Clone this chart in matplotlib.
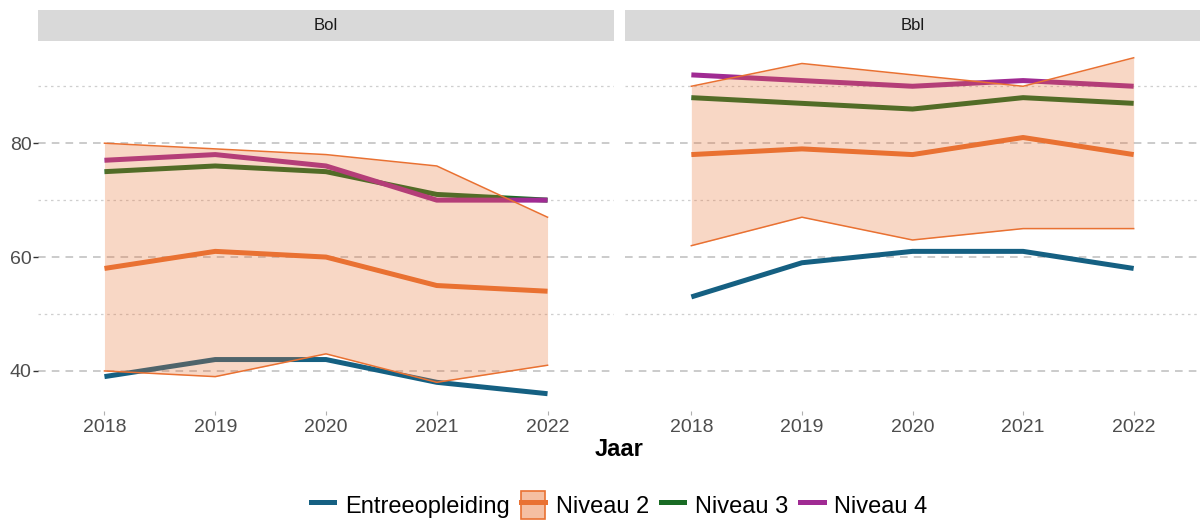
import matplotlib
matplotlib.use("Agg")
import matplotlib.pyplot as plt
from matplotlib.lines import Line2D
from matplotlib.patches import Patch
from matplotlib.ticker import MultipleLocator

plt.rcParams['font.family'] = ['Liberation Sans', 'DejaVu Sans']

years = [2018, 2019, 2020, 2021, 2022]
panels = ["Bol", "Bbl"]

# Bol
bol_entree = [39, 42, 42, 38, 36]
bol_n2 = [58, 61, 60, 55, 54]
bol_n2_low = [40, 39, 43, 38, 41]
bol_n2_high = [80, 79, 78, 76, 67]
bol_n3 = [75, 76, 75, 71, 70]
bol_n4 = [77, 78, 76, 70, 70]

# Bbl
bbl_entree = [53, 59, 61, 61, 58]
bbl_n2 = [78, 79, 78, 81, 78]
bbl_n2_low = [62, 67, 63, 65, 65]
bbl_n2_high = [90, 94, 92, 90, 95]
bbl_n3 = [88, 87, 86, 88, 87]
bbl_n4 = [92, 91, 90, 91, 90]

labels = ["Entreeopleiding", "Niveau 2", "Niveau 3", "Niveau 4"]
colors = ["#156082", "#E97132", "#196B24", "#A02B93"]

data = {
    "Bol": (bol_entree, bol_n2, bol_n2_low, bol_n2_high, bol_n3, bol_n4),
    "Bbl": (bbl_entree, bbl_n2, bbl_n2_low, bbl_n2_high, bbl_n3, bbl_n4),
}

fig = plt.figure(figsize=(12.02, 5.2), dpi=100)
W, H = 1202, 520
boxes = [(38, 614), (625, 1200)]
top, bottom = 41, 410.5
strip_top = 10
xc = (boxes[0][0] + boxes[1][1]) / 2 / W

for i, name in enumerate(panels):
    x0, x1 = boxes[i]
    ax = fig.add_axes([x0 / W, 1 - bottom / H, (x1 - x0) / W, (bottom - top) / H])
    entree, n2, lo, hi, n3, n4 = data[name]

    ax.plot(years, entree, color=colors[0], lw=3.6, zorder=2, solid_capstyle='butt')
    ax.plot(years, n3, color=colors[2], lw=3.6, zorder=2, solid_capstyle='butt')
    ax.plot(years, n4, color=colors[3], lw=3.6, zorder=2, solid_capstyle='butt')
    ax.plot(years, n2, color=colors[1], lw=3.6, zorder=2, solid_capstyle='butt')
    ax.fill_between(years, lo, hi, color=colors[1], alpha=0.28, lw=0, zorder=3)
    ax.plot(years, lo, color=colors[1], lw=1.1, zorder=4)
    ax.plot(years, hi, color=colors[1], lw=1.1, zorder=4)

    ax.set_xlim(2017.4, 2022.6)
    ax.set_ylim(33.05, 97.95)
    ax.yaxis.set_major_locator(MultipleLocator(20))
    ax.yaxis.set_minor_locator(MultipleLocator(10))
    ax.set_xticks(years)
    ax.grid(axis='y', which='major', color='#bdbdbd', lw=1.1, ls=(0, (5, 4)))
    ax.grid(axis='y', which='minor', color='#cfcfcf', lw=0.9, ls=(0, (2, 3)))
    ax.set_axisbelow(True)
    for s in ax.spines.values():
        s.set_visible(False)
    ax.tick_params(axis='x', labelsize=14, labelcolor='#4d4d4d', color='#b0b0b0',
                   length=3, pad=3)
    ax.tick_params(axis='y', which='minor', length=0)
    if i == 0:
        ax.tick_params(axis='y', labelsize=14, labelcolor='#4d4d4d', color='#333333',
                       length=3.5, width=1, pad=1)
    else:
        ax.tick_params(axis='y', labelleft=False, length=0)

    # facet strip
    sax = fig.add_axes([x0 / W, 1 - top / H, (x1 - x0) / W, (top - strip_top) / H])
    sax.set_facecolor('#d9d9d9')
    sax.set_xticks([])
    sax.set_yticks([])
    for s in sax.spines.values():
        s.set_visible(False)
    sax.text(0.5, 0.5, name, ha='center', va='center', fontsize=12, color='#1a1a1a',
             transform=sax.transAxes)

fig.text(xc, 1 - 450 / H, "Jaar", ha='center', va='center', fontsize=17, fontweight='bold')

handles = [
    Line2D([], [], color=colors[0], lw=3.6),
    (Patch(facecolor=colors[1], alpha=0.45, edgecolor='none'),
     Patch(facecolor='none', edgecolor=colors[1], lw=1.2),
     Line2D([], [], color=colors[1], lw=3.6)),
    Line2D([], [], color=colors[2], lw=3.6),
    Line2D([], [], color=colors[3], lw=3.6),
]
fig.legend(handles, labels, loc='center', bbox_to_anchor=(xc, 1 - 505 / H), ncol=4,
           frameon=False, fontsize=17, handlelength=1.0, handletextpad=0.45,
           columnspacing=0.5, handleheight=1.4)

fig.savefig("out.png", dpi=100)
